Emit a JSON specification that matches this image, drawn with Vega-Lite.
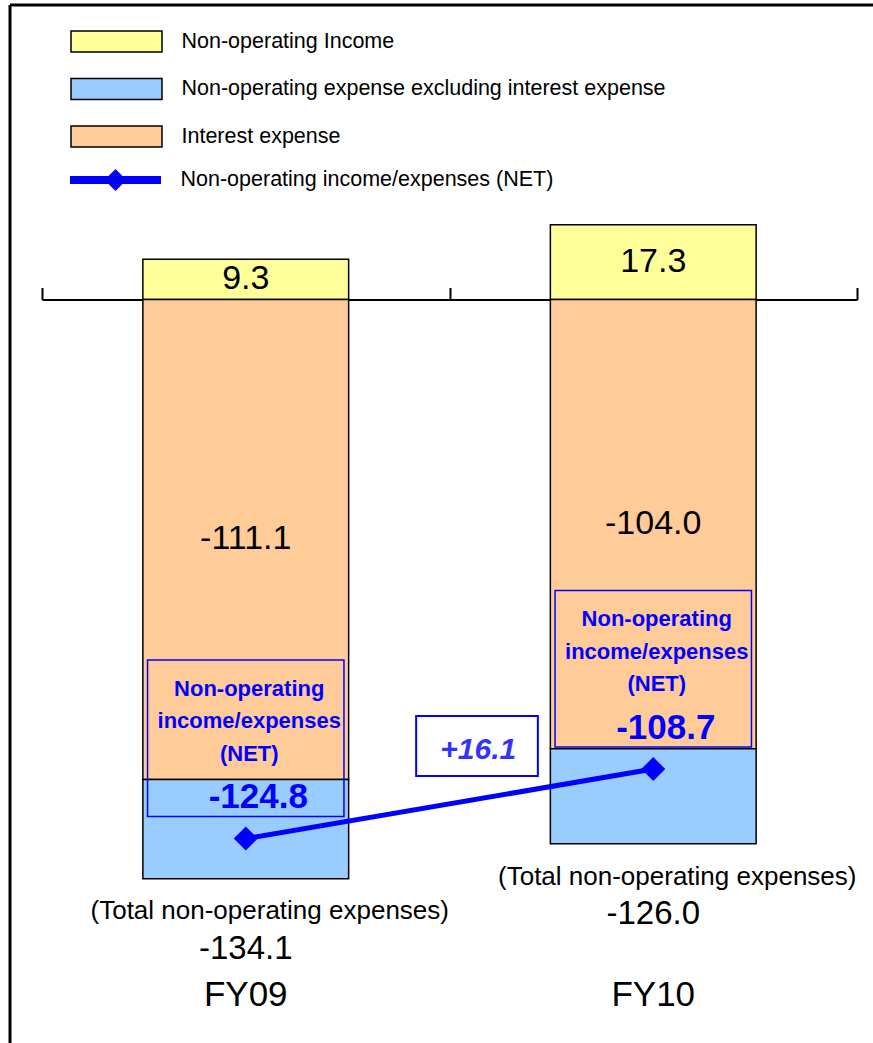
{
  "$schema": "https://vega.github.io/schema/vega-lite/v6.json",
  "width": 863,
  "height": 1038,
  "autosize": {"type": "none"},
  "padding": {"left": 10, "top": 5, "right": 0, "bottom": 0},
  "background": "white",
  "datasets": {
    "segments": [
      {"year": "FY09", "part": "Non-operating Income", "value": 9.3, "order": 1},
      {"year": "FY09", "part": "Interest expense", "value": -111.1, "order": 2},
      {"year": "FY09", "part": "Non-operating expense excluding interest expense", "value": -23.0, "order": 3},
      {"year": "FY10", "part": "Non-operating Income", "value": 17.3, "order": 1},
      {"year": "FY10", "part": "Interest expense", "value": -104.0, "order": 2},
      {"year": "FY10", "part": "Non-operating expense excluding interest expense", "value": -22.0, "order": 3}
    ],
    "net": [
      {"year": "FY09", "net": -124.8},
      {"year": "FY10", "net": -108.7, "change": 16.1}
    ],
    "totals": [
      {"year": "FY09", "total": -134.1},
      {"year": "FY10", "total": -126.0}
    ]
  },
  "resolve": {"axis": {"x": "independent"}},
  "layer": [
    {
      "data": {"name": "segments"},
      "transform": [
        {"stack": "value", "groupby": ["year"], "sort": [{"field": "order"}], "as": ["v0", "v1"]}
      ],
      "mark": {"type": "bar", "stroke": "black", "strokeWidth": 1.5, "width": {"band": 0.505}},
      "encoding": {
        "x": {
          "field": "year", "type": "nominal",
          "scale": {"type": "band", "range": [32, 847], "paddingInner": 0, "paddingOuter": 0},
          "axis": {
            "orient": "top", "offset": -294.5, "tickBand": "extent",
            "labels": false, "title": null, "grid": false,
            "domainColor": "black", "domainWidth": 2,
            "tickColor": "black", "tickWidth": 2, "tickSize": 12
          }
        },
        "y": {
          "field": "v0", "type": "quantitative",
          "scale": {"domain": [-172.11, 68.17], "nice": false, "zero": false},
          "axis": null
        },
        "y2": {"field": "v1"},
        "fill": {
          "field": "part", "type": "nominal",
          "scale": {
            "domain": ["Non-operating Income", "Non-operating expense excluding interest expense", "Interest expense"],
            "range": ["#FFFF99", "#99CCFF", "#FFCC99"]
          },
          "legend": {
            "orient": "none", "legendX": 84.5, "legendY": 14.5, "title": null,
            "symbolType": "M-2.1667,-0.5H2.1667V0.5H-2.1667Z", "symbolSize": 1764,
            "symbolStrokeColor": "black", "symbolStrokeWidth": 1.5, "symbolOpacity": 1,
            "labelFont": "Liberation Sans, Arial, sans-serif", "labelFontSize": 21.5, "labelColor": "black",
            "labelOffset": 43, "labelLimit": 800, "rowPadding": 11.5
          }
        }
      }
    },
    {
      "data": {"name": "segments"},
      "transform": [
        {"stack": "value", "groupby": ["year"], "sort": [{"field": "order"}], "as": ["v0", "v1"]},
        {"filter": "datum.part !== 'Non-operating expense excluding interest expense'"},
        {"fold": ["v0", "v1"], "as": ["edge", "pos"]},
        {"aggregate": [{"op": "mean", "field": "pos", "as": "mid"}], "groupby": ["year", "part", "value"]}
      ],
      "mark": {"type": "text", "fontSize": 34, "color": "black", "align": "center", "baseline": "middle"},
      "encoding": {
        "x": {"field": "year", "type": "nominal", "axis": null},
        "y": {"field": "mid", "type": "quantitative"},
        "text": {"field": "value", "type": "quantitative", "format": ".1f"}
      }
    },
    {
      "data": {"name": "net"},
      "mark": {"type": "bar", "width": {"band": 0.482}, "fill": null, "fillOpacity": 0, "stroke": "#0000FF", "strokeWidth": 1.5, "yOffset": -178.5, "y2Offset": -22},
      "encoding": {
        "x": {"field": "year", "type": "nominal", "axis": null},
        "y": {"field": "net", "type": "quantitative"},
        "y2": {"field": "net"}
      }
    },
    {
      "data": {"name": "net"},
      "mark": {"type": "line", "strokeWidth": 5},
      "encoding": {
        "x": {"field": "year", "type": "nominal", "axis": null},
        "y": {"field": "net", "type": "quantitative"},
        "stroke": {
          "datum": "Non-operating income/expenses (NET)", "type": "nominal",
          "scale": {"range": ["#0000FF"]},
          "legend": {
            "orient": "none", "legendX": 84.5, "legendY": 154, "title": null,
            "symbolType": "M-2.1667,-0.1905H-0.333L0,-0.524L0.333,-0.1905H2.1667V0.1905H0.333L0,0.524L-0.333,0.1905H-2.1667Z",
            "symbolSize": 1764, "symbolFillColor": "#0000FF", "symbolStrokeWidth": 0,
            "labelFont": "Liberation Sans, Arial, sans-serif", "labelFontSize": 21.5, "labelColor": "black",
            "labelOffset": 44, "labelLimit": 800,
            "encode": {"symbols": {"update": {"fill": {"value": "#0000FF"}, "strokeWidth": {"value": 0}, "opacity": {"value": 1}}}}
          }
        }
      }
    },
    {
      "data": {"name": "net"},
      "mark": {"type": "point", "shape": "diamond", "filled": true, "size": 576, "color": "#0000FF", "opacity": 1},
      "encoding": {
        "x": {"field": "year", "type": "nominal", "axis": null},
        "y": {"field": "net", "type": "quantitative"}
      }
    },
    {
      "data": {"name": "net"},
      "mark": {"type": "text", "fontWeight": "bold", "fontSize": 22, "lineHeight": 32.5, "color": "#0000FF", "align": "center", "baseline": "alphabetic", "dx": 3.5, "dy": -143},
      "encoding": {
        "x": {"field": "year", "type": "nominal", "axis": null},
        "y": {"field": "net", "type": "quantitative"},
        "text": {"value": ["Non-operating", "income/expenses", "(NET)"]}
      }
    },
    {
      "data": {"name": "net"},
      "mark": {"type": "text", "fontWeight": "bold", "fontSize": 35, "color": "#0000FF", "align": "center", "baseline": "alphabetic", "dx": 12.5, "dy": -30.5},
      "encoding": {
        "x": {"field": "year", "type": "nominal", "axis": null},
        "y": {"field": "net", "type": "quantitative"},
        "text": {"field": "net", "type": "quantitative", "format": ".1f"}
      }
    },
    {
      "data": {"name": "net"},
      "transform": [{"filter": "isValid(datum.change)"}],
      "mark": {"type": "point", "shape": "M-1,-0.493H1V0.493H-1Z", "size": 14811, "filled": false, "stroke": "#0000FF", "strokeWidth": 2, "opacity": 1, "xOffset": 27.5, "yOffset": -23},
      "encoding": {
        "x": {"field": "year", "type": "nominal", "bandPosition": 0, "axis": null},
        "y": {"field": "net", "type": "quantitative"}
      }
    },
    {
      "data": {"name": "net"},
      "transform": [{"filter": "isValid(datum.change)"}],
      "mark": {"type": "text", "fontWeight": "bold", "fontStyle": "italic", "fontSize": 30, "color": "#3333FF", "align": "center", "baseline": "alphabetic", "dx": 28.8, "dy": -9.8},
      "encoding": {
        "x": {"field": "year", "type": "nominal", "bandPosition": 0, "axis": null},
        "y": {"field": "net", "type": "quantitative"},
        "text": {"field": "change", "type": "quantitative", "format": "+.1f"}
      }
    },
    {
      "data": {"name": "totals"},
      "mark": {"type": "text", "fontSize": 26, "color": "black", "align": "center", "baseline": "alphabetic", "dx": 24, "dy": 40.7},
      "encoding": {
        "x": {"field": "year", "type": "nominal", "axis": null},
        "y": {"field": "total", "type": "quantitative"},
        "text": {"value": "(Total non-operating expenses)"}
      }
    },
    {
      "data": {"name": "totals"},
      "mark": {"type": "text", "fontSize": 33, "color": "black", "align": "center", "baseline": "alphabetic", "dy": 80.2},
      "encoding": {
        "x": {
          "field": "year", "type": "nominal",
          "axis": {
            "orient": "bottom", "offset": -38, "domain": false, "ticks": false, "tickSize": 0,
            "labelPadding": 0, "labelBaseline": "alphabetic", "labelAngle": 0,
            "labelFont": "Liberation Sans, Arial, sans-serif", "labelFontSize": 35, "labelColor": "black",
            "title": null, "grid": false
          }
        },
        "y": {"field": "total", "type": "quantitative"},
        "text": {"field": "total", "type": "quantitative", "format": ".1f"}
      }
    }
  ],
  "config": {
    "font": "Liberation Sans, Arial, sans-serif",
    "text": {"font": "Liberation Sans, Arial, sans-serif"},
    "locale": {"number": {"decimal": ".", "thousands": ",", "grouping": [3], "currency": ["$", ""], "minus": "-"}},
    "view": {"stroke": "black", "strokeWidth": 3, "strokeDash": [863, 1901, 1038, 0]}
  }
}
